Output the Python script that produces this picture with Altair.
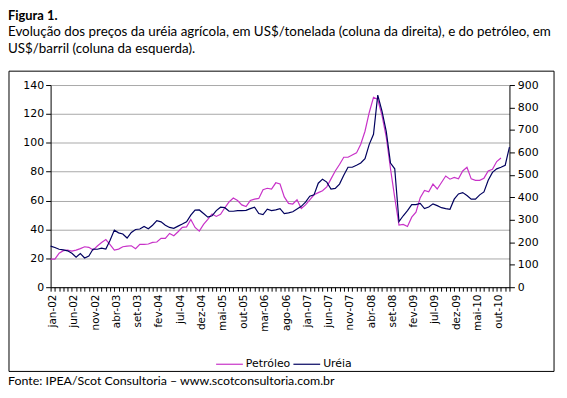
import json
import altair as alt
import pandas as pd

MONTH_NAMES = ["jan", "fev", "mar", "abr", "mai", "jun", "jul", "ago", "set", "out", "nov", "dez"]
YEARS = ["02", "03", "04", "05", "06", "07", "08", "09", "10", "11"]
MONTH_LABELS = [f"{m}-{y}" for y in YEARS for m in MONTH_NAMES][:109]

# Petróleo, US$/barril (left axis), jan-02 .. nov-10
petroleo = [
    19.5, 19.5, 23.5, 25.3, 25.7, 25.0, 25.7, 26.7, 28.0, 27.6, 25.7, 28.5,
    31.0, 33.0, 29.5, 25.7, 26.4, 28.0, 28.5, 28.7, 26.7, 29.7, 29.7, 29.9,
    31.0, 31.3, 33.8, 33.8, 37.2, 35.6, 38.4, 41.4, 41.8, 46.9, 41.4, 38.8,
    43.5, 47.0, 50.7, 49.0, 50.5, 55.0, 59.0, 61.8, 60.0, 57.0, 55.8, 60.0,
    61.0, 61.5, 67.5, 68.5, 68.0, 72.3, 71.5, 62.5, 58.0, 57.6, 60.5, 54.5,
    57.0, 60.5, 64.0, 65.5, 66.8, 69.5, 75.0, 80.5, 85.0, 90.0, 90.0, 91.5,
    93.0, 99.0, 108.0, 121.0, 131.5, 130.0, 119.0, 104.0, 82.0, 62.0, 43.0, 43.5,
    42.0, 48.5, 52.0, 62.0, 67.0, 66.0, 71.4, 68.0, 72.5, 77.0, 74.8, 76.0,
    75.0, 80.5, 83.0, 75.0, 74.0, 74.0, 75.5, 80.5, 81.6, 87.0, 89.5,
]

# Uréia, US$/tonelada (right axis), jan-02 .. jan-11
ureia = [
    183, 177, 169, 166, 162, 151, 134, 150, 130, 139, 170, 169,
    174, 170, 209, 254, 242, 237, 219, 244, 257, 259, 270, 260,
    276, 296, 291, 276, 266, 262, 272, 281, 291, 321, 343, 344,
    328, 312, 318, 341, 356, 354, 338, 338, 341, 341, 342, 350,
    356, 328, 323, 347, 341, 344, 350, 328, 331, 336, 348, 360,
    379, 405, 411, 463, 481, 468, 437, 440, 459, 498, 534, 534,
    543, 553, 572, 636, 681, 855, 784, 694, 553, 527, 292, 318,
    341, 368, 368, 373, 350, 357, 371, 363, 354, 350, 347, 392,
    415, 421, 408, 392, 392, 411, 424, 476, 511, 527, 534, 543,
    624,
]

SERIES = ["Petróleo", "Uréia"]
COLORS = ["#C832C8", "#00005E"]
LEFT_TICKS = [0, 20, 40, 60, 80, 100, 120, 140]
RIGHT_TICKS = [0, 100, 200, 300, 400, 500, 600, 700, 800, 900]

TITLE = "Figura 1."
SUBTITLE = [
    "Evolução dos preços da uréia agrícola, em US$/tonelada (coluna da direita), e do petróleo, em",
    "US$/barril (coluna da esquerda).",
]
SOURCE = "Fonte: IPEA/Scot Consultoria – www.scotconsultoria.com.br"

df_p = pd.DataFrame({"i": list(range(len(petroleo))), "v": petroleo, "s": SERIES[0]})
df_u = pd.DataFrame({"i": list(range(len(ureia))), "v": ureia, "s": SERIES[1]})

AX_FONT = "DejaVu Sans"
TXT_FONT = "Lato"
n = len(MONTH_LABELS)

label_expr = f"datum.value % 5 == 0 ? {json.dumps(MONTH_LABELS)}[datum.value] : ''"

x_enc = alt.X(
    "i:Q",
    scale=alt.Scale(domain=[0, n - 1], nice=False, zero=False),
    axis=alt.Axis(
        values=list(range(n)),
        labelExpr=label_expr,
        labelAngle=270,
        labelAlign="right",
        labelBaseline="middle",
        labelOverlap=False,
        labelFlush=False,
        labelOffset=2,
        labelPadding=3,
        tickSize=4,
        grid=False,
        title=None,
        domainColor="black",
        tickColor="black",
        labelColor="black",
        labelFont=AX_FONT,
        labelFontSize=10.5,
    ),
)

color_enc = alt.Color(
    "s:N",
    scale=alt.Scale(domain=SERIES, range=COLORS),
    legend=alt.Legend(
        title=None,
        orient="none",
        direction="horizontal",
        legendX=166,
        legendY=267,
        symbolType="stroke",
        symbolSize=729,
        symbolStrokeWidth=1.2,
        labelFont=AX_FONT,
        labelFontSize=11,
        labelColor="black",
        labelOffset=2,
        columnPadding=0,
        padding=0,
    ),
)

petro_line = alt.Chart(df_p).mark_line(strokeWidth=1.2).encode(
    x=x_enc,
    y=alt.Y(
        "v:Q",
        scale=alt.Scale(domain=[0, 140], nice=False),
        axis=alt.Axis(
            values=LEFT_TICKS,
            title=None,
            orient="left",
            grid=True,
            gridColor="#A8A8A8",
            gridWidth=1,
            domainColor="black",
            tickColor="black",
            tickSize=5,
            labelPadding=2,
            labelColor="black",
            labelFont=AX_FONT,
            labelFontSize=11,
        ),
    ),
    color=color_enc,
)

ureia_line = alt.Chart(df_u).mark_line(strokeWidth=1.2).encode(
    x=x_enc,
    y=alt.Y(
        "v:Q",
        scale=alt.Scale(domain=[0, 900], nice=False),
        axis=alt.Axis(
            values=RIGHT_TICKS,
            title=None,
            orient="right",
            grid=False,
            domainColor="black",
            tickColor="black",
            tickSize=5,
            labelPadding=3,
            labelColor="black",
            labelFont=AX_FONT,
            labelFontSize=11,
        ),
    ),
    color=color_enc,
)

frame = alt.Chart(pd.DataFrame({"k": [0]})).mark_rect(
    fillOpacity=0, stroke="black", strokeWidth=1
).encode(
    x=alt.value(-42), x2=alt.value(508), y=alt.value(-14), y2=alt.value(289)
)

TX = -43

title_mark = alt.Chart(pd.DataFrame({"t": [TITLE]})).mark_text(
    align="left", baseline="alphabetic", font=TXT_FONT, fontSize=13, fontWeight="bold", color="black"
).encode(x=alt.value(TX), y=alt.value(-66), text="t:N")

sub1 = alt.Chart(pd.DataFrame({"t": [SUBTITLE[0]]})).mark_text(
    align="left", baseline="alphabetic", font=TXT_FONT, fontSize=13.5, color="black"
).encode(x=alt.value(TX), y=alt.value(-49), text="t:N")

sub2 = alt.Chart(pd.DataFrame({"t": [SUBTITLE[1]]})).mark_text(
    align="left", baseline="alphabetic", font=TXT_FONT, fontSize=13.5, color="black"
).encode(x=alt.value(TX), y=alt.value(-32), text="t:N")

source = alt.Chart(pd.DataFrame({"t": [SOURCE]})).mark_text(
    align="left", baseline="alphabetic", font=TXT_FONT, fontSize=12.5, color="black"
).encode(x=alt.value(TX), y=alt.value(303), text="t:N")

chart = alt.layer(
    frame, petro_line, ureia_line, title_mark, sub1, sub2, source
).resolve_scale(
    y="independent"
).properties(
    width=463,
    height=204,
    autosize=alt.AutoSizeParams(type="none"),
    padding={"left": 43, "top": 76, "right": 50, "bottom": 102},
    background="white",
).configure_view(stroke=None)

chart.save("out.html", embed_options={"renderer": "svg", "actions": False})
